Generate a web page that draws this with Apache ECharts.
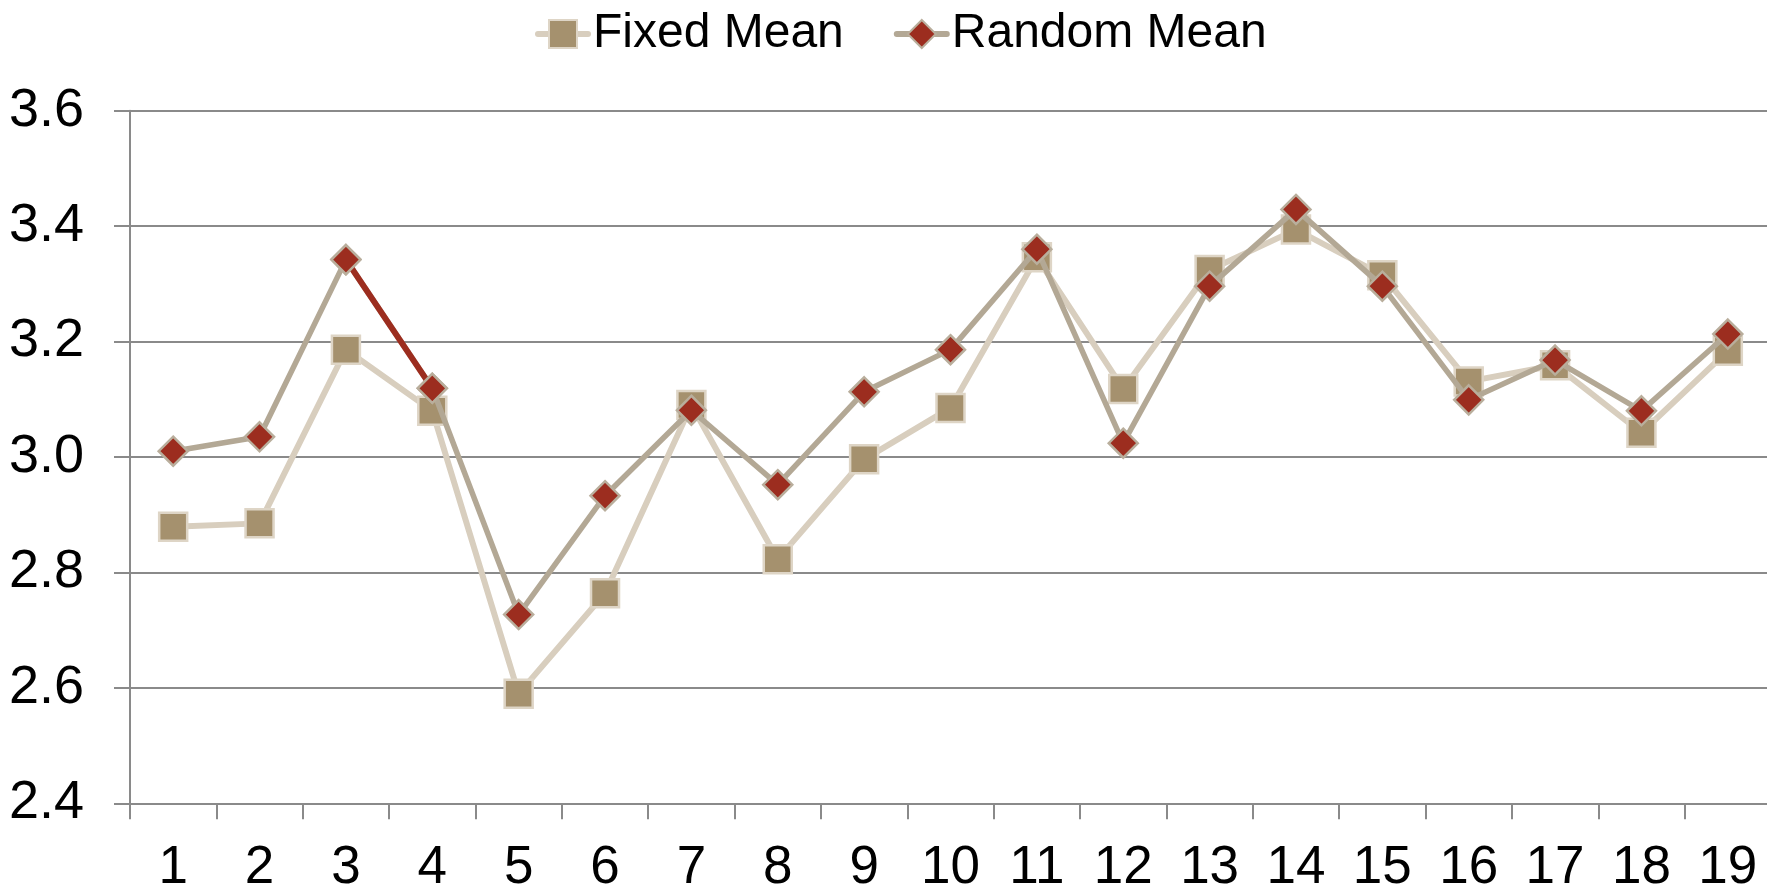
<!DOCTYPE html>
<html>
<head>
<meta charset="utf-8">
<title>Fixed vs Random Mean</title>
<script src="https://cdn.jsdelivr.net/npm/echarts@6/dist/echarts.min.js"></script>
<style>
  html, body { margin: 0; padding: 0; background: #ffffff; }
  #chart { width: 1767px; height: 889px; }
</style>
</head>
<body>
<div id="chart"></div>
<script>
// Category labels along the x axis
const categories = ['1','2','3','4','5','6','7','8','9','10','11','12','13','14','15','16','17','18','19'];

// Mean estimates per item
const fixedMean  = [2.879, 2.885, 3.186, 3.080, 2.590, 2.764, 3.090, 2.823, 2.996, 3.085,
                    3.346, 3.118, 3.324, 3.394, 3.315, 3.131, 3.159, 3.042, 3.184];
const randomMean = [3.010, 3.035, 3.342, 3.119, 2.727, 2.933, 3.081, 2.952, 3.113, 3.186,
                    3.360, 3.024, 3.296, 3.429, 3.296, 3.099, 3.168, 3.080, 3.213];

// Y axis range and step
const yMin = 2.4, yMax = 3.6, yStep = 0.2;

// Indices of the Random Mean segment drawn in red
const highlightIdx = [2, 3];

const FONT = "'Liberation Sans', Arial, sans-serif";
const GRID_GRAY = '#8a8a8a';
const FIXED_LINE = '#d8cebe';
const FIXED_FILL = '#a5916e';
const FIXED_BORDER = '#ded5c6';
const RANDOM_LINE = '#b3a895';
const RANDOM_FILL = '#9c2d1f';
const RANDOM_BORDER = '#b9ae9c';

const highlightData = randomMean.map((v, i) => highlightIdx.includes(i) ? v : null);

const chart = echarts.init(document.getElementById('chart'), null, { renderer: 'canvas' });

chart.setOption({
  animation: false,
  backgroundColor: '#ffffff',
  textStyle: { fontFamily: FONT },
  legend: {
    data: ['Fixed Mean', 'Random Mean'],
    left: 530,
    top: 5,
    itemWidth: 50,
    itemHeight: 35,
    itemGap: 50,
    lineStyle: { width: 6, cap: 'round' },
    textStyle: { fontFamily: FONT, fontSize: 48, color: '#000000' }
  },
  grid: {
    left: 130,
    right: -4,
    top: 110.7,
    bottom: 85.7,
    containLabel: false,
    outerBoundsMode: 'none'
  },
  xAxis: {
    type: 'category',
    data: categories,
    boundaryGap: true,
    axisLine: { show: true, lineStyle: { color: GRID_GRAY, width: 2 } },
    axisTick: { show: true, length: 16, alignWithLabel: false, lineStyle: { color: GRID_GRAY, width: 2 } },
    axisLabel: { fontFamily: FONT, fontSize: 53, color: '#000000', margin: 39, interval: 0 },
    splitLine: { show: false }
  },
  yAxis: {
    type: 'value',
    min: yMin,
    max: yMax,
    interval: yStep,
    axisLine: { show: true, lineStyle: { color: GRID_GRAY, width: 2 } },
    axisTick: { show: true, length: 16, lineStyle: { color: GRID_GRAY, width: 2 } },
    axisLabel: {
      fontFamily: FONT, fontSize: 54, color: '#000000', margin: 46,
      formatter: v => v.toFixed(1)
    },
    splitLine: { show: true, lineStyle: { color: GRID_GRAY, width: 2 } }
  },
  series: [
    {
      name: 'Fixed Mean',
      type: 'line',
      z: 2,
      data: fixedMean,
      symbol: 'rect',
      symbolSize: 28,
      lineStyle: { color: FIXED_LINE, width: 6 },
      itemStyle: { color: FIXED_FILL, borderColor: FIXED_BORDER, borderWidth: 2.5 }
    },
    {
      name: 'Random Mean',
      type: 'line',
      z: 3,
      data: randomMean,
      symbol: 'diamond',
      symbolSize: 29,
      lineStyle: { color: RANDOM_LINE, width: 5.5 },
      itemStyle: { color: RANDOM_FILL, borderColor: RANDOM_BORDER, borderWidth: 2.5 }
    },
    {
      // red segment between items 3 and 4
      name: 'highlight',
      type: 'line',
      z: 4,
      data: highlightData,
      showSymbol: false,
      symbol: 'none',
      lineStyle: { color: RANDOM_FILL, width: 6 },
      silent: true
    },
    {
      // diamonds redrawn above the red segment
      name: 'highlight markers',
      type: 'line',
      z: 5,
      data: highlightData,
      symbol: 'diamond',
      symbolSize: 29,
      lineStyle: { width: 0, opacity: 0 },
      itemStyle: { color: RANDOM_FILL, borderColor: RANDOM_BORDER, borderWidth: 2.5 },
      silent: true
    }
  ]
});
</script>
</body>
</html>
